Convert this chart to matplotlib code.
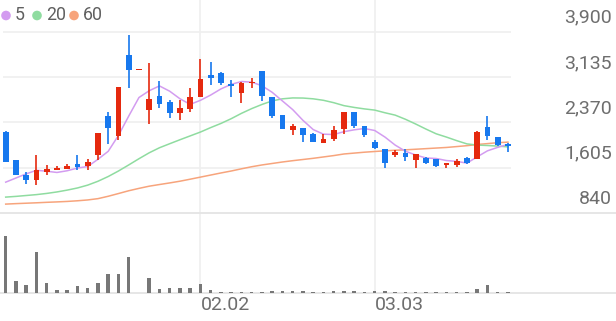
import numpy as np
import pandas as pd
import matplotlib
matplotlib.use("Agg")
import matplotlib.pyplot as plt
import matplotlib.transforms as mtransforms

plt.rcParams["font.family"] = ["Roboto", "DejaVu Sans"]

# daily prices, 50 sessions
opens = [2205, 1733, 1478, 1389, 1533, 1567, 1589, 1661, 1639, 1811,
         2483, 2144, 3500, 3250, 2583, 2816, 2705, 2528, 2594, 2789,
         3161, 3194, 3011, 2855, 3033, 3233, 2789, 2500, 2233, 2278,
         2167, 2028, 2094, 2250, 2539, 2306, 2039, 1911, 1822, 1855,
         1733, 1772, 1744, 1644, 1644, 1761, 1744, 2289, 2122, 1999]
highs = [2215, 1740, 1533, 1822, 1655, 1633, 1661, 1811, 1744, 2189,
         2550, 2967, 3844, 3262, 3372, 3067, 2744, 2744, 2955, 3428,
         3389, 3217, 3083, 3055, 3122, 3233, 2789, 2500, 2344, 2278,
         2189, 2178, 2311, 2539, 2539, 2306, 2067, 1911, 1900, 1911,
         1833, 1778, 1744, 1689, 1744, 1778, 2217, 2467, 2122, 2022]
lows = [1695, 1478, 1333, 1311, 1478, 1567, 1578, 1567, 1567, 1733,
        2011, 2066, 2955, 3250, 2333, 2611, 2444, 2411, 2539, 2789,
        2994, 3000, 2800, 2689, 2955, 2733, 2444, 2261, 2150, 2039,
        2039, 2022, 2050, 2172, 2278, 2122, 1911, 1594, 1789, 1722,
        1594, 1672, 1622, 1605, 1611, 1667, 1744, 2067, 1967, 1872]
closes = [1705, 1483, 1389, 1567, 1578, 1600, 1628, 1617, 1694, 2189,
          2272, 2967, 3244, 3262, 2761, 2678, 2522, 2606, 2789, 3105,
          3122, 3039, 2989, 3028, 3055, 2817, 2483, 2261, 2300, 2150,
          2039, 2094, 2233, 2539, 2306, 2150, 1928, 1678, 1861, 1789,
          1833, 1678, 1633, 1689, 1717, 1689, 2206, 2139, 1983, 1967]
volumes = [173, 35, 23, 123, 29, 10, 10, 20, 16, 30,
           58, 58, 108, 0, 45, 12, 14, 14, 14, 27,
           8, 4, 4, 4, 4, 4, 6, 6, 5, 5,
           4, 4, 5, 6, 5, 4, 5, 5, 4, 4,
           4, 4, 3, 3, 3, 3, 12, 25, 4, 4]

# first MA5 values come from sessions before the window
ma5_head = [1360, 1430, 1500, 1560]
ma20 = [1108, 1120, 1135, 1150, 1170, 1195, 1226, 1262, 1310, 1375,
        1455, 1548, 1650, 1755, 1855, 1940, 2008, 2075, 2140, 2205,
        2280, 2350, 2430, 2520, 2600, 2670, 2730, 2765, 2780, 2778,
        2765, 2740, 2700, 2650, 2620, 2595, 2575, 2530, 2490, 2420,
        2340, 2255, 2175, 2120, 2060, 2005, 1985, 1978, 1968, 1955]
ma60 = [990, 998, 1005, 1012, 1020, 1027, 1035, 1046, 1060, 1082,
        1122, 1168, 1215, 1255, 1292, 1320, 1347, 1376, 1410, 1445,
        1480, 1515, 1548, 1585, 1620, 1650, 1675, 1700, 1722, 1742,
        1762, 1785, 1808, 1835, 1850, 1865, 1877, 1888, 1898, 1905,
        1915, 1925, 1935, 1945, 1960, 1975, 1995, 2010, 2025, 2035]

yticks = [840, 1605, 2370, 3135, 3900]
tick_idx = [19, 36]
tick_labels = ["02.02", "03.03"]

RED = "#e5290e"
BLUE = "#1778ee"
C5, C20, C60 = "#d39cf0", "#8fdca0", "#f7a47c"
GRID = "#efefef"
TXT = "#6e6e6e"

ma5 = pd.Series(closes).rolling(5).mean().to_numpy()
ma5[:4] = ma5_head

o = np.array(opens)
c = np.array(closes)
x = np.arange(len(o))
up = c >= o
colors = np.where(up, RED, BLUE)

W, H = 616, 321
fig = plt.figure(figsize=(W / 100, H / 100), dpi=100)
xlim = (-0.556, -0.556 + W / 10.25)

# background layer in index / pixel units: vertical grid, baselines, date labels
bg = fig.add_axes([0, 0, 1, 1], zorder=0)
bg.set_xlim(xlim)
bg.set_ylim(H, 0)
bg.axis("off")
bg.vlines(tick_idx, 0, 293, color=GRID, lw=1.2)
bg.axhline(293, color="#e4e4e4", lw=1.3)
for i, lab in zip(tick_idx, tick_labels):
    bg.text(i, 305, lab, ha="left", va="center", fontsize=14, color=TXT)

# price panel
ax = fig.add_axes([0, (H - 220) / H, 1, 220 / H], zorder=1)
ax.set_facecolor("none")
ax.set_xlim(xlim)
ax.set_ylim(840 - 7 * 16.86, 3900 + 31.5 * 16.86)
ax.axis("off")
ax.hlines(yticks[1:], -0.26, 49.3, color=GRID, lw=1.2)
ax.axhline(yticks[0], color="#e4e4e4", lw=1.3)

lab_tr = mtransforms.offset_copy(ax.get_yaxis_transform(), fig=fig, y=14, units="dots")
for v in yticks:
    ax.text(612 / W, v, f"{v:,}", transform=lab_tr, ha="right", va="center",
            fontsize=14, color=TXT)

ax.plot(x, ma60, color=C60, lw=1.1, zorder=2)
ax.plot(x, ma20, color=C20, lw=1.1, zorder=2)
ax.plot(x, ma5, color=C5, lw=1.1, zorder=2)

ax.vlines(x, lows, highs, color=colors, lw=1.2, zorder=3)
bottoms = np.minimum(o, c)
heights = np.maximum(np.abs(c - o), 14)
ax.bar(x, heights, bottom=bottoms, width=0.56, color=colors, zorder=4)

# volume panel
vax = fig.add_axes([0, (H - 293) / H, 1, 65 / H], zorder=1)
vax.set_facecolor("none")
vax.set_xlim(xlim)
vax.set_ylim(0, 197)
vax.axis("off")
vax.bar(x, volumes, width=0.34, color="#777777")

# legend
px = fig.add_axes([0, 0, 1, 1], zorder=2)
px.set_xlim(0, W)
px.set_ylim(H, 0)
px.axis("off")
for cx, tx, col, lab in [(6, 15, C5, "5"), (37, 46.5, C20, "20"), (74, 83, C60, "60")]:
    px.scatter([cx], [15.5], s=48, color=col, edgecolors="none")
    px.text(tx, 15.5, lab, ha="left", va="center", fontsize=12.8, color="#606060")

fig.savefig("out.png", dpi=100)
